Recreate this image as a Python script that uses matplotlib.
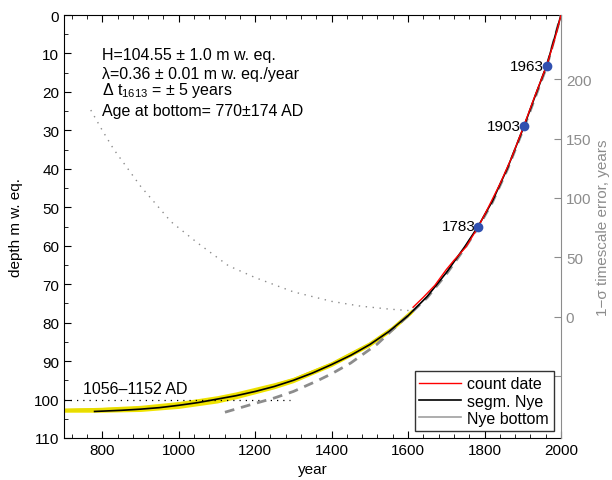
import numpy as np
import matplotlib
matplotlib.use("Agg")
import matplotlib.pyplot as plt
from matplotlib.lines import Line2D
from matplotlib.ticker import AutoMinorLocator, FixedLocator

plt.rcParams['font.family'] = ['Liberation Sans', 'DejaVu Sans']
plt.rcParams['mathtext.default'] = 'regular'

# segmented Nye model (year, depth)
nye_year = [780, 850, 900, 950, 1000, 1050, 1100, 1150, 1200, 1250, 1300, 1350,
            1400, 1450, 1500, 1550, 1600, 1650, 1700, 1750, 1783, 1820, 1860,
            1903, 1930, 1963, 2000]
nye_depth = [103.1, 102.8, 102.5, 102.1, 101.5, 100.8, 99.9, 99.0, 97.9, 96.6,
             95.0, 93.1, 90.9, 88.5, 85.7, 82.3, 78.2, 73.2, 67.0, 60.0, 55.0,
             48.5, 39.8, 29.0, 21.7, 13.0, 0.0]

# layer counted dates
count_year = [1613, 1640, 1670, 1700, 1720, 1750, 1783, 1810, 1840, 1870, 1903,
              1930, 1963, 1985, 2000]
count_depth = [76.0, 73.4, 70.3, 66.2, 63.8, 60.5, 55.2, 50.0, 44.0, 37.3, 28.8,
               21.5, 13.0, 5.8, 0.0]

# Nye model fitted to the bottom
bot_year = [1121, 1186, 1250, 1300, 1361, 1400, 1450, 1519, 1560, 1600, 1650,
            1700, 1750, 1783, 1820, 1860, 1903, 1963, 2000]
bot_depth = [103.3, 101.4, 99.6, 97.9, 95.2, 93.3, 90.5, 85.6, 81.8, 78.2, 73.5,
             67.4, 60.4, 55.3, 48.8, 40.1, 29.3, 13.3, 0.0]

# spread of the model ensemble
band_year = [700, 800, 900, 1000, 1100, 1150, 1200, 1250, 1300, 1400, 1500, 1560, 1610]
band_top = [102.3, 102.0, 101.5, 100.5, 99.0, 98.0, 96.8, 95.6, 94.2, 90.2, 85.0, 81.0, 76.8]
band_bot = [103.3, 103.3, 103.1, 102.3, 100.9, 99.8, 98.5, 97.2, 95.6, 91.4, 86.2, 82.0, 77.6]

# 1-sigma timescale error
err_year = [770, 800, 830, 900, 980, 1050, 1130, 1200, 1300, 1400, 1475, 1550, 1613]
err_val = [174, 157, 141, 110, 80, 62, 43, 33, 21, 13, 9, 6.5, 5]

# reference horizons
mark_year = [1783, 1903, 1963]
mark_depth = [55.0, 28.9, 13.2]

gray = '#8c8c8c'

fig = plt.figure(figsize=(6.12, 4.81), dpi=100)
ax = fig.add_axes([64 / 612, 1 - 439 / 481, 497 / 612, 423 / 481])

ax.fill_between(band_year, band_top, band_bot, color='#f0e400', lw=0, zorder=1)
ax.plot(band_year, (np.array(band_top) + np.array(band_bot)) / 2, color='#e8dc00', lw=2.5, zorder=1)
ax.plot([700, 1290], [100, 100], color='k', lw=0.9, dashes=(1, 4), zorder=2)
ax.plot(bot_year, bot_depth, color=gray, lw=2, dashes=(3.5, 2.5), zorder=3)
ax.plot(nye_year, nye_depth, color='k', lw=1.2, zorder=4)
ax.plot(count_year, count_depth, color='red', lw=1.0, zorder=5)
ax.plot(mark_year, mark_depth, 'o', color='#3050b0', ms=6, zorder=7)
for yr, d in zip(mark_year, mark_depth):
    ax.annotate(str(yr), (yr, d), xytext=(-2, 0), textcoords='offset points',
                ha='right', va='center', fontsize=11, zorder=6)

ax.text(799, 11.5, 'H=104.55 ± 1.0 m w. eq.', fontsize=11.5, va='baseline')
ax.text(799, 16.3, 'λ=0.36 ± 0.01 m w. eq./year', fontsize=11.5, va='baseline')
ax.text(799, 20.6, r'Δ t$_{1613}$ = ± 5 years', fontsize=11.5, va='baseline')
ax.text(799, 26.1, 'Age at bottom= 770±174 AD', fontsize=11.5, va='baseline')
ax.text(750, 98.3, '1056–1152 AD', fontsize=11.5, va='baseline')

ax.set_xlim(700, 2000)
ax.set_ylim(110, 0)
ax.set_xticks(range(800, 2001, 200))
ax.set_yticks(range(0, 111, 10))
ax.xaxis.set_minor_locator(AutoMinorLocator(5))
ax.yaxis.set_minor_locator(AutoMinorLocator(2))
ax.tick_params(which='both', direction='in', top=True, right=False, labelsize=11)
ax.tick_params(which='major', length=5)
ax.tick_params(which='minor', length=3)
ax.set_xlabel('year', fontsize=11, labelpad=4)
ax.set_ylabel('depth m w. eq.', fontsize=11, labelpad=8)
ax.spines['right'].set_visible(False)

ax2 = ax.twinx()
ax2.plot(err_year, err_val, color=gray, lw=1, dashes=(1, 4))
ax2.set_ylim(-102, 254)
ax2.yaxis.set_major_locator(FixedLocator([-50, 0, 50, 100, 150, 200]))
ax2.set_yticklabels(['', '0', '50', '100', '150', '200'])
ax2.tick_params(axis='y', direction='in', length=5, colors=gray, labelsize=11)
for s in ['left', 'top', 'bottom']:
    ax2.spines[s].set_visible(False)
ax2.spines['right'].set_color(gray)
ax2.set_ylabel('1−σ timescale error, years', color=gray, fontsize=11, labelpad=3)

handles = [Line2D([], [], color='red', lw=1),
           Line2D([], [], color='k', lw=1.2),
           Line2D([], [], color='#a0a0a0', lw=1.2)]
leg = ax2.legend(handles, ['count date', 'segm. Nye', 'Nye bottom'], loc='lower right',
                 fontsize=11.5, frameon=True, fancybox=False, edgecolor='k',
                 borderaxespad=0.45, handlelength=2.6, labelspacing=0.15,
                 borderpad=0.3, handletextpad=0.4)
leg.get_frame().set_linewidth(1)

fig.savefig('out.png', dpi=100)
